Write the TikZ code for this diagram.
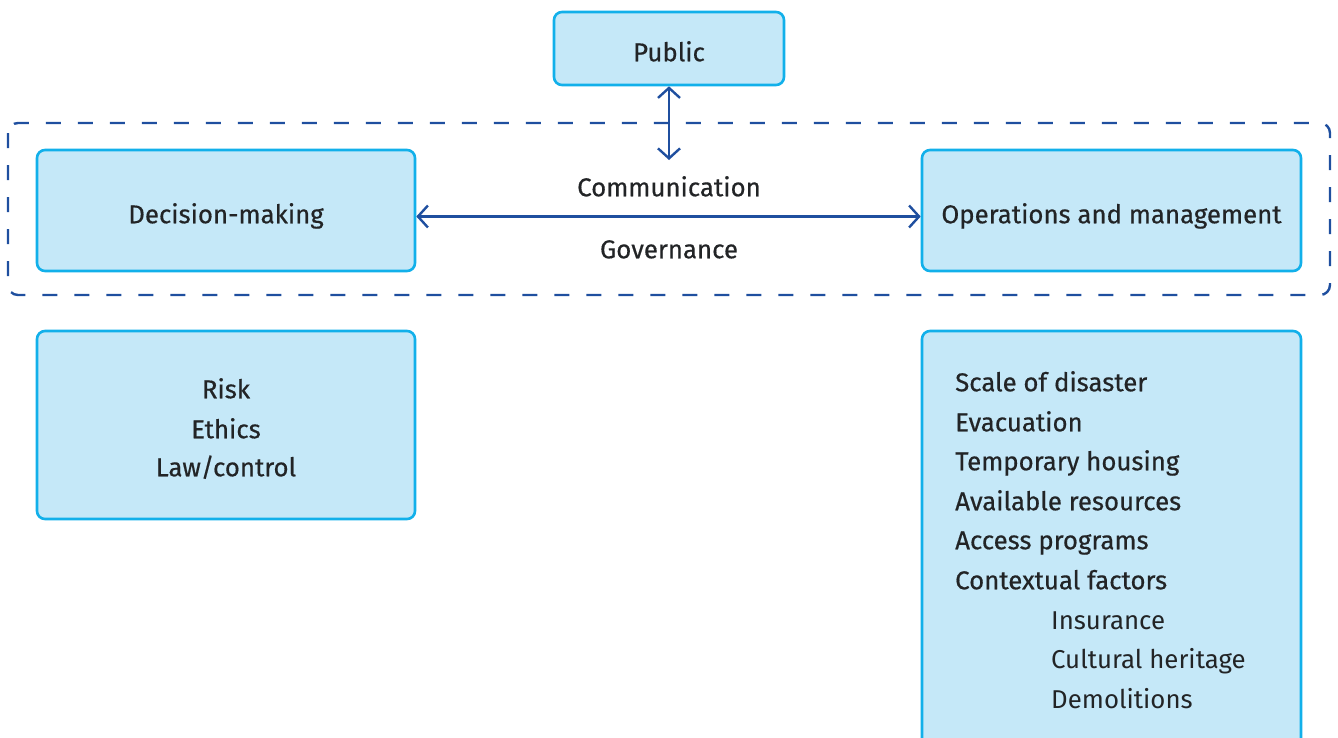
\documentclass[tikz,border=0pt]{standalone}
\usepackage{fontspec}
\setmainfont{Fira Sans}
\newfontfamily\medium[FakeBold=0.5]{Fira Sans}
\usetikzlibrary{arrows.meta,calc}
\definecolor{boxfill}{HTML}{C5E8F8}
\definecolor{boxline}{HTML}{12B0EA}
\definecolor{linkblue}{HTML}{1F4F9F}
\definecolor{ink}{HTML}{222426}
\tikzset{
  panel/.style={draw=boxline, fill=boxfill, line width=2.6pt, rounded corners=8pt},
  lbl/.style={text=ink, font=\medium\fontsize{25.8}{30}\selectfont, inner sep=0pt,
    text height=18.5pt, text depth=0pt},
  sublbl/.style={lbl, font=\fontsize{25.8}{30}\selectfont},
  link/.style={draw=linkblue, line width=2.4pt,
    {Straight Barb[length=10pt,width=22pt,line width=2.4pt]}-{Straight Barb[length=10pt,width=22pt,line width=2.4pt]}},
}
\begin{document}
\begin{tikzpicture}[x=1pt,y=-1pt]
\useasboundingbox (0,0) rectangle (1338,737);
% dashed frame around the central row
\draw[linkblue, line width=2.4pt, dash pattern=on 15pt off 17pt, rounded corners=10pt]
  (8,123) rectangle (1330,295);
% boxes
\node[panel, minimum width=230pt, minimum height=73pt] (public) at (669,48.5) {};
\node[lbl] at (669,52) {Public};
\node[panel, minimum width=378pt, minimum height=121pt] (dm) at (226,210.5) {};
\node[lbl] at (226,214) {Decision-making};
\node[panel, minimum width=379pt, minimum height=121pt] (om) at (1111.5,210.5) {};
\node[lbl] at (1111.5,214) {Operations and management};
\node[panel, minimum width=378pt, minimum height=188pt] (risk) at (226,425) {};
\node[lbl] at (226,389) {Risk};
\node[lbl] at (226,429) {Ethics};
\node[lbl] at (226,467) {Law/control};
\begin{scope}
\clip (0,0) rectangle (1338,737);
\node[panel, minimum width=379pt, minimum height=430pt] (fac) at (1111.5,546) {};
\end{scope}
\node[lbl, anchor=west] at (955,382) {Scale of disaster};
\node[lbl, anchor=west] at (955,422) {Evacuation};
\node[lbl, anchor=west] at (955,461) {Temporary housing};
\node[lbl, anchor=west] at (955,501) {Available resources};
\node[lbl, anchor=west] at (955,540) {Access programs};
\node[lbl, anchor=west] at (955,580) {Contextual factors};
\node[sublbl, anchor=west] at (1051,620) {Insurance};
\node[sublbl, anchor=west] at (1051,659) {Cultural heritage};
\node[sublbl, anchor=west] at (1051,699) {Demolitions};
% connectors
\coordinate (pubend) at (669,160);
\draw[link] (public.south) -- (pubend);
\draw[link] ($(dm.east)+(0,6)$) -- ($(om.west)+(0,6)$);
\node[lbl] at (669,187) {Communication};
\node[lbl] at (669,249) {Governance};
\end{tikzpicture}
\end{document}
